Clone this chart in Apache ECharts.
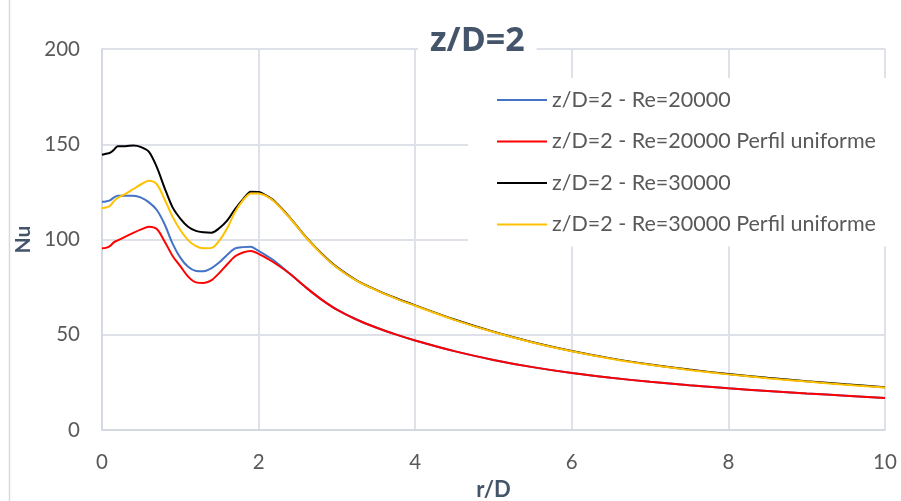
<!DOCTYPE html>
<html><head><meta charset="utf-8">
<script src="https://cdn.jsdelivr.net/npm/echarts@6/dist/echarts.min.js"></script>
<style>html,body{margin:0;padding:0;background:#fff}#c{width:901px;height:501px}</style>
</head><body><div id="c"></div>
<script>
var rD = [0,0.05,0.1,0.15,0.2,0.3,0.4,0.5,0.6,0.7,0.8,0.9,1.0,1.1,1.2,1.3,1.4,1.5,1.6,1.7,1.8,1.9,2.0,2.1,2.2,2.4,2.6,2.8,3.0,3.25,3.5,3.75,4.0,4.5,5.0,5.5,6.0,6.5,7.0,7.5,8.0,8.5,9.0,9.5,10.0];
var re20000 = [119.8,120,120.5,122,123,123,123,122,119.5,115.5,108,98,90.5,85.7,83.5,83.3,85,88,92,95.3,96,96.2,94,91.5,88.8,82,75,68.6,63.2,58,53.8,50.2,47,41.4,36.8,33,29.9,27.4,25.3,23.5,21.9,20.5,19.2,18,16.8];
var re20000Unif = [95.4,95.6,96.5,98.5,99.5,101.5,103.5,105.3,106.7,105.5,99,91.5,86,80.5,77.5,77.2,78.7,82.5,87,91.2,93.2,94,92.5,90.2,87.8,82,75,68.6,63.2,58,53.8,50.2,47,41.4,36.8,33,29.9,27.4,25.3,23.5,21.9,20.5,19.2,18,16.8];
var re30000 = [144.5,145,145.5,147,149,149,149.3,148.5,146,138,127,117,111,106.7,104.5,103.8,103.6,106,110,116,121,125.1,125,123,120.2,111.5,101.5,92.8,85.5,78.6,73.6,69.3,65.4,58,51.6,46.1,41.5,37.6,34.4,31.7,29.4,27.4,25.6,24,22.5];
var re30000Unif = [116.4,116.8,117.6,120,121.8,124,126.5,129,130.9,129,121,112,105,99.7,96.5,95.4,95.6,99.5,106,114.5,120.5,124.2,124.2,122.8,120,111.3,101.3,92.6,85.3,78.4,73.4,69.1,65.2,57.8,51.4,45.9,41.3,37.4,34.2,31.5,29.2,27.2,25.4,23.8,22.3];
var seriesNames = ['z/D=2 - Re=20000','z/D=2 - Re=20000 Perfil uniforme','z/D=2 - Re=30000','z/D=2 - Re=30000 Perfil uniforme'];
var seriesColors = ['#4472C4','#FF0000','#000000','#FFC000'];
var seriesValues = [re20000, re20000Unif, re30000, re30000Unif];
var xTicks = [0,2,4,6,8,10];
var yTicks = [0,50,100,150,200];

var FONT = 'Lato';
var TXT = '#595959';
var DARK = '#44546A';
function pairs(v){ return rD.map(function(x,i){ return [x, v[i]]; }); }
var series = seriesNames.map(function(n,i){
  return {name:n, type:'line', data:pairs(seriesValues[i]), showSymbol:false, symbol:'none',
    smooth:0.3,
    lineStyle:{color:seriesColors[i], width:2}, itemStyle:{color:seriesColors[i]}, z: 10};
});
var chart = echarts.init(document.getElementById('c'), null, {renderer:'canvas'});
chart.setOption({
  animation:false,
  backgroundColor:'#fff',
  textStyle:{fontFamily:FONT},
  title:{text:'z/D=2', left:418, top:22, padding:[2,12,2,12], backgroundColor:'#fff',
    textStyle:{fontFamily:'Open Sans', fontSize:34, fontWeight:'bold', color:DARK}},
  grid:{left:102, right:16, top:49, bottom:71, containLabel:false, outerBoundsMode:'none'},
  legend:{orient:'vertical', left:468, top:78, padding:[11,30,11,29], backgroundColor:'#fff',
    itemWidth:50, itemHeight:2, icon:'rect', itemGap:19.5,
    textStyle:{fontFamily:FONT, fontSize:21.5, color:TXT, lineHeight:20},
    data:seriesNames, z: 5},
  xAxis:{type:'value', min:0, max:10, interval:2, name:'r/D', nameLocation:'middle', nameGap:49,
    nameTextStyle:{fontFamily:FONT, fontSize:22, fontWeight:'bold', color:DARK},
    axisLine:{show:true, lineStyle:{color:'#D0D5DE', width:1.5}}, axisTick:{show:false},
    axisLabel:{margin:22, fontSize:20.5, color:TXT, fontFamily:FONT,
      formatter:function(v){ return xTicks.indexOf(v)>=0 ? String(v) : ''; }},
    splitLine:{show:true, lineStyle:{color:'#DEE1E8', width:2}}},
  yAxis:{type:'value', min:0, max:200, interval:50, name:'Nu', nameLocation:'middle', nameGap:65,
    nameTextStyle:{fontFamily:FONT, fontSize:21, fontWeight:'bold', color:DARK},
    axisLine:{show:true, lineStyle:{color:'#D0D5DE', width:1.5}}, axisTick:{show:false},
    axisLabel:{margin:22, fontSize:20.5, color:TXT, fontFamily:FONT,
      formatter:function(v){ return yTicks.indexOf(v)>=0 ? String(v) : ''; }},
    splitLine:{show:true, lineStyle:{color:'#DEE1E8', width:2}}},
  graphic:[{type:'line', shape:{x1:9.5,y1:0,x2:9.5,y2:501}, style:{stroke:'#D9D9D9', lineWidth:1.5}, silent:true}],
  series:series
});
</script></body></html>
